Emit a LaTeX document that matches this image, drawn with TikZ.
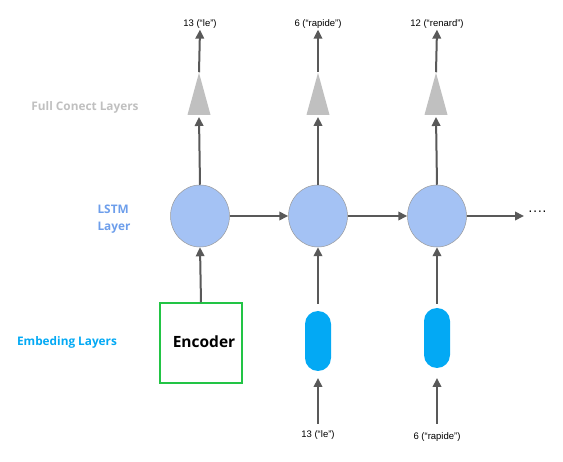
\documentclass[tikz,border=0pt]{standalone}
\usepackage{fontspec}
\setmainfont{Liberation Sans}
\newfontfamily\lblfont{Open Sans}
\usetikzlibrary{arrows.meta,shapes.geometric,shapes.misc}
\definecolor{arr}{HTML}{595959}
\definecolor{lstm}{HTML}{A4C2F4}
\definecolor{lstmtxt}{HTML}{6D9EEB}
\definecolor{emb}{HTML}{03A9F4}
\definecolor{fc}{HTML}{C0C0C0}
\definecolor{enc}{HTML}{22C445}
\begin{document}
\begin{tikzpicture}[x=1pt,y=-1pt,
  conn/.style={draw=arr,line width=2pt,-{Triangle[length=9pt,width=8.5pt]}},
  cell/.style={ellipse,draw=gray!80,line width=0.5pt,fill=lstm,minimum width=59pt,minimum height=62pt,inner sep=0pt},
  fclayer/.style={isosceles triangle,shape border rotate=90,isosceles triangle stretches,fill=fc,minimum width=23pt,minimum height=42pt,inner sep=0pt},
  pill/.style={rounded rectangle,rounded rectangle arc length=180,rotate=90,fill=emb,minimum width=60pt,minimum height=26pt,inner sep=0pt},
  numlbl/.style={font=\fontsize{9.5}{11}\selectfont,inner sep=1pt},
  sidelbl/.style={font=\lblfont\bfseries\fontsize{11.8}{17}\selectfont,align=left}
]
\useasboundingbox (0,0) rectangle (563,462);
% top labels
\node[numlbl] (o1) at (200,24) {13 (“le”)};
\node[numlbl] (o2) at (318,24) {6 (“rapide”)};
\node[numlbl] (o3) at (437,24) {12 (“renard”)};
% fc triangles
\node[fclayer] (f1) at (199,106) {};
\node[fclayer] (f2) at (318,106) {};
\node[fclayer] (f3) at (436,106) {};
% lstm cells
\node[cell] (c1) at (200,216) {};
\node[cell] (c2) at (318,216) {};
\node[cell] (c3) at (437,216) {};
\coordinate (cend) at (524,216);
\node[font=\fontsize{14}{14}\selectfont,anchor=west,inner sep=0pt] (dots) at (528,213) {····};
% embeddings
\node[draw=enc,line width=1.5pt,minimum width=82pt,minimum height=80pt,inner sep=0pt] (e1) at (201,343) {};
\node[font=\lblfont\bfseries\fontsize{15.5}{16}\selectfont] (etxt) at (204,342) {Encoder};
\node[pill] (e2) at (318,341) {};
\node[pill] (e3) at (437,338) {};
\coordinate (i2) at (318,424);
\coordinate (i3) at (437,424);
\coordinate (p2) at (318,304);
\coordinate (p3) at (437,304);
\coordinate (t2) at (318,378);
\coordinate (t3) at (437,378);
\node[numlbl] (in2) at (318,435) {13 (“le”)};
\node[numlbl] (in3) at (437,437) {6 (“rapide”)};
% side labels
\node[sidelbl,text=fc] (l1) at (85,107) {Full Conect Layers};
\node[sidelbl,text=lstmtxt] (l2) at (114,219) {LSTM\\Layer};
\node[sidelbl,text=emb] (l3) at (67,342) {Embeding Layers};
% connectors
\draw[conn] (f1.apex) -- (o1.south);
\draw[conn] (f2.apex) -- (o2.south);
\draw[conn] (f3.apex) -- (o3.south);
\draw[conn] (c1.north) -- ([yshift=-2pt]f1.south);
\draw[conn] (c2.north) -- ([yshift=-2pt]f2.south);
\draw[conn] (c3.north) -- ([yshift=-2pt]f3.south);
\draw[conn] (c1.east) -- (c2.west);
\draw[conn] (c2.east) -- (c3.west);
\draw[conn] (c3.east) -- (cend);
\draw[conn] (e1.north) -- (c1.south);
\draw[conn] (p2) -- (c2.south);
\draw[conn] (p3) -- (c3.south);
\draw[conn] (i2) -- (t2);
\draw[conn] (i3) -- (t3);
\end{tikzpicture}
\end{document}
